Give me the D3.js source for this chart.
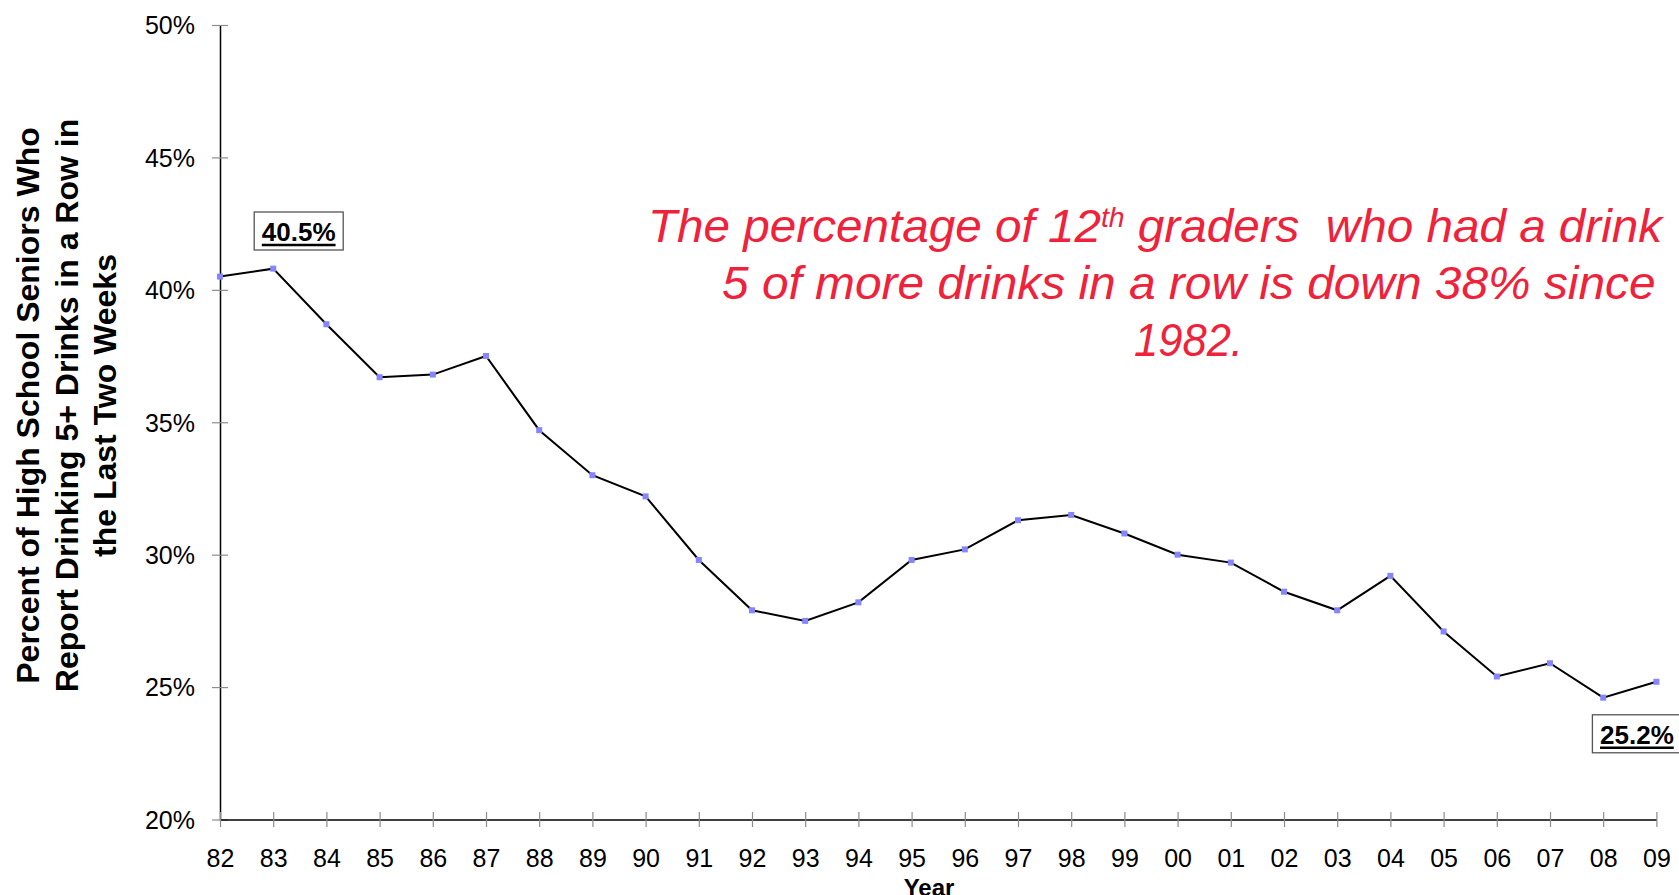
<!DOCTYPE html>
<html>
<head>
<meta charset="utf-8">
<script src="https://cdn.jsdelivr.net/npm/d3@7"></script>
<style>
  html, body { margin: 0; padding: 0; background: #fff; overflow: hidden; }
  svg { display: block; font-family: "Liberation Sans", Arial, sans-serif; }
</style>
</head>
<body>
<svg id="chart" width="1679" height="895"></svg>
<script>
// ---- data ----
const years = ["82","83","84","85","86","87","88","89","90","91","92","93","94","95","96","97","98","99","00","01","02","03","04","05","06","07","08","09"];
const values = [40.5,40.8,38.7,36.7,36.8,37.5,34.7,33.0,32.2,29.8,27.9,27.5,28.2,29.8,30.2,31.3,31.5,30.8,30.0,29.7,28.6,27.9,29.2,27.1,25.4,25.9,24.6,25.2];
const yTicks = [20,25,30,35,40,45,50];
const yTitleLines = ["Percent of High School Seniors Who","Report Drinking 5+ Drinks in a Row in","the Last Two Weeks"];
const xTitle = "Year";
const callouts = [
  {year:"82", value:40.5, text:"40.5%", dx:78.7, dy:-45.6},
  {year:"09", value:25.2, text:"25.2%", dx:-19.5, dy:52}
];

(function () {
const svg = d3.select("#chart");
const mLeft = 220, mRight = 1656.4, mTop = 25, mBottom = 819.5;

const x = d3.scalePoint().domain(years).range([mLeft, mRight]).padding(0);
const y = d3.scaleLinear().domain([20,50]).range([mBottom, mTop]);

// ---- y axis ----
const yAxis = svg.append("g").attr("transform", `translate(${mLeft},0)`)
  .call(d3.axisLeft(y).tickValues(yTicks).tickFormat(d => d + "%").tickSize(8).tickSizeOuter(0).tickPadding(17));
yAxis.select(".domain").attr("stroke", "#000").attr("stroke-width", 1.5);
yAxis.selectAll(".tick line").attr("x1", -8).attr("x2", 8).attr("stroke", "#8c8c8c").attr("stroke-width", 1.2);
yAxis.selectAll(".tick text").attr("font-size", 25).attr("fill", "#000")
  .attr("font-family", "'Liberation Sans', Arial, sans-serif").attr("dy", "0.35em");

// ---- x axis ----
const xAxis = svg.append("g").attr("transform", `translate(0,${mBottom})`)
  .call(d3.axisBottom(x).tickSize(7.5).tickSizeOuter(0));
xAxis.select(".domain").attr("stroke", "#000").attr("stroke-width", 1.5);
xAxis.selectAll(".tick line").attr("y1", -7.5).attr("y2", 7.5).attr("stroke", "#8c8c8c").attr("stroke-width", 1.2);
xAxis.selectAll(".tick text").attr("font-size", 25).attr("fill", "#000")
  .attr("font-family", "'Liberation Sans', Arial, sans-serif").attr("y", 47.5).attr("dy", 0);

// ---- axis titles ----
svg.append("text").attr("x", 929).attr("y", 896).attr("text-anchor", "middle")
  .attr("font-size", 24).attr("font-weight", "bold").text(xTitle);

const yt = svg.append("g").attr("transform", "rotate(-90)");
yTitleLines.forEach((t, i) => {
  yt.append("text").attr("x", -405.5).attr("y", 39.3 + i * 38.4)
    .attr("text-anchor", "middle").attr("font-size", 32).attr("font-weight", "bold").text(t);
});

// ---- line ----
const line = d3.line().x((d, i) => x(years[i])).y(d => y(d));
svg.append("path").datum(values).attr("d", line)
  .attr("fill", "none").attr("stroke", "#000").attr("stroke-width", 2).attr("stroke-linejoin", "miter");

svg.selectAll("rect.mk").data(values).enter().append("rect").attr("class", "mk")
  .attr("x", (d, i) => x(years[i]) - 3).attr("y", d => y(d) - 3)
  .attr("width", 6).attr("height", 6).attr("fill", "#8585ff");

// ---- callouts ----
callouts.forEach(c => {
  const cx = x(c.year) + c.dx, cy = y(c.value) + c.dy;
  const g = svg.append("g");
  g.append("rect").attr("x", cx - 44.5).attr("y", cy - 19).attr("width", 89).attr("height", 38)
    .attr("fill", "#fff").attr("stroke", "#555").attr("stroke-width", 1.3);
  const t = g.append("text").attr("x", cx).attr("y", cy + 10).attr("text-anchor", "middle")
    .attr("font-size", 26).attr("font-weight", "bold").attr("fill", "#000").text(c.text);
  const w = t.node().getComputedTextLength();
  g.append("line").attr("x1", cx - w / 2).attr("x2", cx + w / 2)
    .attr("y1", cy + 14).attr("y2", cy + 14).attr("stroke", "#000").attr("stroke-width", 2.6);
});

// ---- annotation ----
const red = "#f0213a";
const annot = [
  {parts:[{t:"The percentage of 12"},{t:"th", sup:true},{t:" graders  who had a drink"}], x0:648, x1:1665, base:242},
  {parts:[{t:"5 of more drinks in a row is down 38% since"}], x0:722, x1:1656, base:299},
  {parts:[{t:"1982."}], x0:1134, x1:1243, base:356}
];
annot.forEach(a => {
  const g = svg.append("g");
  const t = g.append("text").attr("x", 0).attr("y", 0).attr("fill", red)
    .attr("font-size", 47).attr("font-style", "italic").style("white-space", "pre");
  a.parts.forEach((p, k) => {
    const ts = t.append("tspan").text(p.t);
    if (p.sup) ts.attr("font-size", 28).attr("dy", -15);
    else if (k > 0) ts.attr("dy", 15);
  });
  const bb = t.node().getBBox();
  const sx = (a.x1 - a.x0) / bb.width;
  g.attr("transform", `translate(${a.x0 - bb.x * sx},${a.base}) scale(${sx},1)`);
});
})();
</script>
</body>
</html>
